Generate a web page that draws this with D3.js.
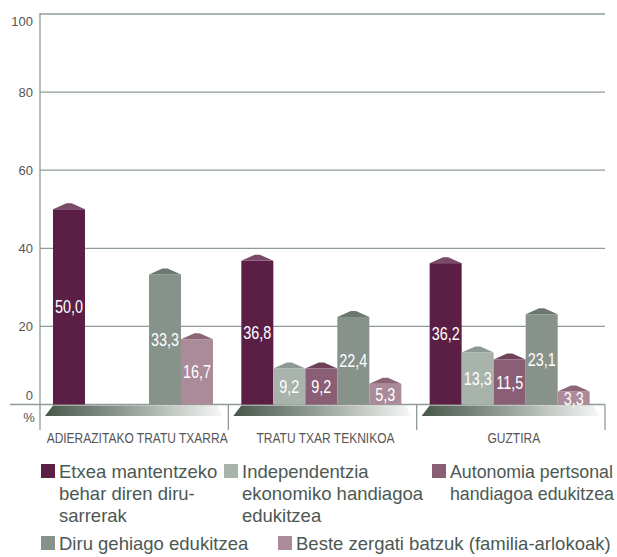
<!DOCTYPE html>
<html>
<head>
<meta charset="utf-8">
<script src="https://cdn.jsdelivr.net/npm/d3@7"></script>
<style>
  body { margin: 0; background: #fff; }
  svg { display: block; }
  text { font-family: "Liberation Sans", Arial, sans-serif; }
  .tick-label { font-size: 13px; fill: #555; }
</style>
</head>
<body>
<svg width="617" height="557"></svg>
<script>
// categories and series
var groups = ["ADIERAZITAKO TRATU TXARRA", "TRATU TXAR TEKNIKOA", "GUZTIRA"];
var seriesNames = [
    "Etxea mantentzeko behar diren diru-sarrerak",
    "Independentzia ekonomiko handiagoa edukitzea",
    "Autonomia pertsonal handiagoa edukitzea",
    "Diru gehiago edukitzea",
    "Beste zergati batzuk (familia-arlokoak)"
];
// legend lines, as printed
var legendLines = [
    ["Etxea mantentzeko", "behar diren diru-", "sarrerak"],
    ["Independentzia", "ekonomiko handiagoa", "edukitzea"],
    ["Autonomia pertsonal", "handiagoa edukitzea"],
    ["Diru gehiago edukitzea"],
    ["Beste zergati batzuk (familia-arlokoak)"]
];
// values per series, one per group (null = no bar)
var etxea = [50.0, 36.8, 36.2];
var independentzia = [null, 9.2, 13.3];
var autonomia = [null, 9.2, 11.5];
var diru = [33.3, 22.4, 23.1];
var beste = [16.7, 5.3, 3.3];
var yTicks = [0, 20, 40, 60, 80, 100];

var seriesValues = [etxea, independentzia, autonomia, diru, beste];
var colors = ["#5b1f46", "#a8b3ab", "#8a5f75", "#87938a", "#ab8b99"];
var roofColors = ["#7a4a69", "#8e9a91", "#6f4259", "#6c786f", "#8c6577"];

var svg = d3.select("svg");

var y = d3.scaleLinear().domain([0, 100]).range([404.5, 14]);
var x0 = d3.scaleBand().domain(groups).range([40, 605]);
var x1 = d3.scaleBand().domain(d3.range(seriesNames.length)).range([13, 173]);
var fmt = function(v) { return d3.format(".1f")(v).replace(".", ","); };

var lineColor = "#8e9c95";

// gradient for the bases
var defs = svg.append("defs");
var grad = defs.append("linearGradient").attr("id", "baseGrad");
grad.append("stop").attr("offset", "0%").attr("stop-color", "#47564b");
grad.append("stop").attr("offset", "50%").attr("stop-color", "#9ba49d");
grad.append("stop").attr("offset", "100%").attr("stop-color", "#f7f8f7");

// gridlines
svg.append("g").selectAll("line")
    .data(yTicks.filter(function(d) { return d > 0; }))
    .enter().append("line")
    .attr("x1", 40).attr("x2", 605)
    .attr("y1", function(d) { return y(d); }).attr("y2", function(d) { return y(d); })
    .attr("stroke", lineColor).attr("stroke-width", 1.3);

// tick labels
svg.append("g").selectAll("text")
    .data(yTicks)
    .enter().append("text")
    .attr("class", "tick-label")
    .attr("x", 33)
    .attr("y", function(d) { return d === 100 ? y(d) + 12 : d === 0 ? y(d) - 5 : y(d) + 5; })
    .attr("text-anchor", "end")
    .text(function(d) { return d; });

svg.append("text").attr("class", "tick-label")
    .attr("x", 29).attr("y", 422).attr("text-anchor", "middle").text("%");

// bases under each group
svg.append("g").selectAll("path")
    .data(groups)
    .enter().append("path")
    .attr("d", function(g) {
        var a = x0(g) + x1.range()[0], b = x0(g) + x1.range()[1];
        return "M" + a + ",405.5L" + (b + 4) + ",405.5L" + (b + 10) + ",416L" + (a - 8) + ",416Z";
    })
    .attr("fill", "url(#baseGrad)");

// axis, baseline and separators
svg.append("line").attr("x1", 40).attr("x2", 40).attr("y1", y(100) - 1).attr("y2", 430)
    .attr("stroke", lineColor).attr("stroke-width", 1.3);
svg.append("line").attr("x1", 10).attr("x2", 605).attr("y1", y(0)).attr("y2", y(0))
    .attr("stroke", lineColor).attr("stroke-width", 1.3);
svg.append("g").selectAll("line")
    .data(groups)
    .enter().append("line")
    .attr("x1", function(g) { return x0(g) + x0.bandwidth(); })
    .attr("x2", function(g) { return x0(g) + x0.bandwidth(); })
    .attr("y1", y(0)).attr("y2", 430)
    .attr("stroke", lineColor).attr("stroke-width", 1.3);

// bars
var bars = [];
groups.forEach(function(g, gi) {
    seriesValues.forEach(function(vals, si) {
        if (vals[gi] != null) bars.push({ group: g, s: si, value: vals[gi] });
    });
});

var barG = svg.append("g");
barG.selectAll("rect")
    .data(bars)
    .enter().append("rect")
    .attr("x", function(d) { return x0(d.group) + x1(d.s); })
    .attr("y", function(d) { return y(d.value); })
    .attr("width", x1.bandwidth())
    .attr("height", function(d) { return y(0) - y(d.value); })
    .attr("fill", function(d) { return colors[d.s]; });

// small roofs on top of the bars
barG.selectAll("path")
    .data(bars)
    .enter().append("path")
    .attr("d", function(d) {
        var x = x0(d.group) + x1(d.s), w = x1.bandwidth(), t = y(d.value);
        return "M" + x + "," + t + "L" + (x + w * 0.42) + "," + (t - 6) + "L" + (x + w * 0.58) + "," + (t - 6) + "L" + (x + w) + "," + t + "Z";
    })
    .attr("fill", function(d) { return roofColors[d.s]; });

// value labels (condensed: squeezed horizontally)
barG.selectAll("text")
    .data(bars)
    .enter().append("text")
    .attr("transform", function(d) {
        var cx = x0(d.group) + x1(d.s) + x1.bandwidth() / 2;
        var cy = (y(d.value) + y(0)) / 2 + 6.5;
        return "translate(" + cx + "," + cy + ") scale(0.8,1)";
    })
    .attr("text-anchor", "middle")
    .attr("font-size", 18)
    .attr("fill", "#fff")
    .text(function(d) { return fmt(d.value); });

// category labels
svg.append("g").selectAll("text")
    .data(groups)
    .enter().append("text")
    .attr("transform", function(g) {
        return "translate(" + (x0(g) + x0.bandwidth() / 2 + 3) + ",443) scale(0.8,1)";
    })
    .attr("text-anchor", "middle")
    .attr("font-size", 15)
    .attr("fill", "#555")
    .text(function(g) { return g; });

// legend
var legendPos = [[41, 478], [224, 478], [432, 478], [41, 550], [278, 550]];
var leg = svg.append("g").selectAll("g")
    .data(seriesNames)
    .enter().append("g")
    .attr("transform", function(d, i) { return "translate(" + legendPos[i][0] + "," + legendPos[i][1] + ")"; });

leg.append("rect")
    .attr("x", 0).attr("y", -14).attr("width", 14).attr("height", 14)
    .attr("fill", function(d, i) { return colors[i]; });

var legText = leg.append("text")
    .attr("font-size", 18.5)
    .attr("fill", "#4c5853");

legText.selectAll("tspan")
    .data(function(d, i) { return legendLines[i]; })
    .enter().append("tspan")
    .attr("x", 0)
    .attr("y", function(d, j) { return j * 22; })
    .text(function(d) { return d; });

// squeeze a legend text if it runs into the next item or the edge
legText.attr("transform", function(d, i) {
    var next = (i === 2 || i === 4) ? 614 : legendPos[i + 1][0] - 4;
    var avail = next - legendPos[i][0] - 18;
    var w = d3.max(d3.select(this).selectAll("tspan").nodes(), function(n) { return n.getComputedTextLength(); });
    var s = Math.min(1, avail / w);
    return "translate(18,0) scale(" + s + ",1)";
});
</script>
</body>
</html>
